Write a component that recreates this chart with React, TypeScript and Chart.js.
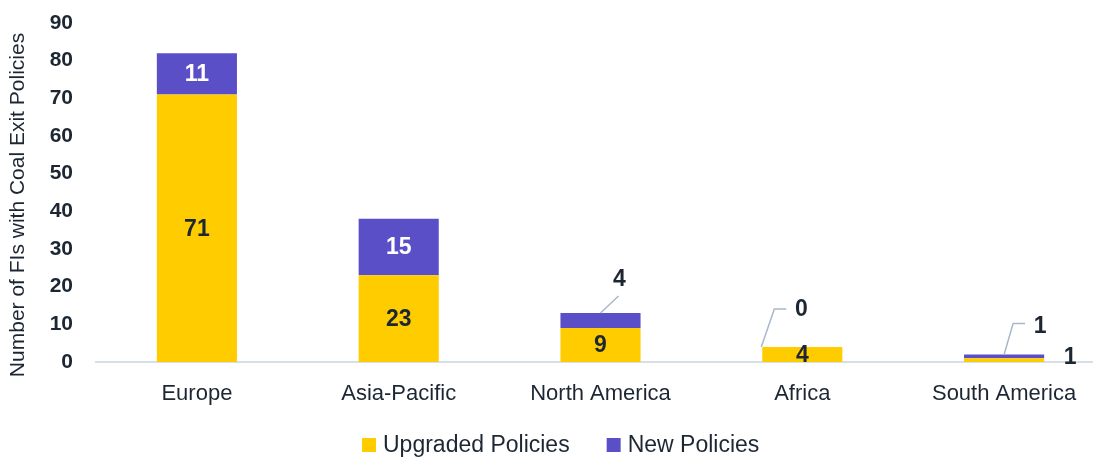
import React, { useEffect, useRef } from "react";
import { Chart, registerables } from "chart.js";

Chart.register(...registerables);

// ---- data ----
const categories = ["Europe", "Asia-Pacific", "North America", "Africa", "South America"];
const upgradedPolicies = [71, 23, 9, 4, 1];
const newPolicies = [11, 15, 4, 0, 1];
const seriesNames = ["Upgraded Policies", "New Policies"];
const yMin = 0;
const yMax = 90;
const yStep = 10;
const yTitle = "Number of FIs with Coal Exit Policies";

// ---- styles ----
const YELLOW = "#FFCC00";
const PURPLE = "#5B4FC7";
const DARK = "#1d2733";
const LEADER = "#a9b8c8";
const FONT = "'Liberation Sans', Arial, sans-serif";

type Pt = [number, number];
type Callout = { text: Pt; line: Pt[] }; // offsets relative to (bar x, bar top)
const callouts: Record<string, Callout> = {
  "1-2": { text: [19, -33], line: [[0, 0], [18, -17]] },
  "1-3": { text: [-1, -37], line: [[-41, 0], [-28, -38], [-16, -38]] },
  "1-4": { text: [36, -28], line: [[0, 0], [9, -31], [21, -31]] },
};
const sideLabels: Record<string, Pt> = {
  "0-4": [66, -2], // relative to (bar x, bar vertical middle)
};

const labelPlugin = {
  id: "barLabels",
  afterDatasetsDraw(chart: any) {
    const ctx = chart.ctx;
    ctx.save();
    ctx.font = `bold 23px ${FONT}`;
    ctx.textAlign = "center";
    ctx.textBaseline = "middle";
    chart.data.datasets.forEach((ds: any, di: number) => {
      const meta = chart.getDatasetMeta(di);
      meta.data.forEach((el: any, i: number) => {
        const v = ds.data[i];
        const key = `${di}-${i}`;
        const top = Math.min(el.y, el.base);
        const mid = (el.y + el.base) / 2;
        if (callouts[key]) {
          const c = callouts[key];
          ctx.strokeStyle = LEADER;
          ctx.lineWidth = 1.5;
          ctx.beginPath();
          c.line.forEach((p, k) => {
            if (k === 0) ctx.moveTo(el.x + p[0], top + p[1]);
            else ctx.lineTo(el.x + p[0], top + p[1]);
          });
          ctx.stroke();
          ctx.fillStyle = DARK;
          ctx.fillText(String(v), el.x + c.text[0], top + c.text[1]);
        } else if (sideLabels[key]) {
          const s = sideLabels[key];
          ctx.fillStyle = DARK;
          ctx.fillText(String(v), el.x + s[0], mid + s[1]);
        } else {
          ctx.fillStyle = di === 1 ? "#ffffff" : DARK;
          ctx.fillText(String(v), el.x, mid + 1);
        }
      });
    });
    ctx.restore();
  },
};

const extrasPlugin = {
  id: "extras",
  afterDraw(chart: any) {
    const ctx = chart.ctx;
    ctx.save();
    // y axis title
    ctx.translate(18, 205);
    ctx.rotate(-Math.PI / 2);
    ctx.font = `21px ${FONT}`;
    ctx.fillStyle = DARK;
    ctx.textAlign = "center";
    ctx.textBaseline = "middle";
    ctx.fillText(yTitle, 0, 0);
    ctx.restore();

    // legend
    ctx.save();
    ctx.font = `23px ${FONT}`;
    ctx.textBaseline = "middle";
    ctx.textAlign = "left";
    const box = 14;
    const gapText = 7;
    const gapItem = 37;
    const items = chart.data.datasets.map((d: any) => ({
      label: d.label,
      color: d.backgroundColor,
      w: ctx.measureText(d.label).width,
    }));
    let x = 362;
    const cy = 445;
    items.forEach((it: any) => {
      ctx.fillStyle = it.color;
      ctx.fillRect(x, cy - box / 2, box, box);
      x += box + gapText;
      ctx.fillStyle = DARK;
      ctx.fillText(it.label, x, cy + 1);
      x += it.w + gapItem;
    });
    ctx.restore();
  },
};

export default function App() {
  const ref = useRef<HTMLCanvasElement | null>(null);
  useEffect(() => {
    if (!ref.current) return;
    const chart = new Chart(ref.current, {
      type: "bar",
      data: {
        labels: categories,
        datasets: [
          {
            label: seriesNames[0],
            data: upgradedPolicies,
            backgroundColor: YELLOW,
            barPercentage: 0.397,
            categoryPercentage: 1,
          },
          {
            label: seriesNames[1],
            data: newPolicies,
            backgroundColor: PURPLE,
            barPercentage: 0.397,
            categoryPercentage: 1,
          },
        ],
      },
      options: {
        animation: false,
        responsive: false,
        devicePixelRatio: 1,
        layout: { padding: { top: 23, bottom: 51, left: 0, right: 0 } },
        plugins: { legend: { display: false }, tooltip: { enabled: false } },
        scales: {
          x: {
            stacked: true,
            grid: { display: false, drawTicks: false },
            border: { display: true, color: "#d6dfe7", width: 2 },
            ticks: {
              color: DARK,
              font: { family: FONT, size: 22 },
              padding: 19,
              maxRotation: 0,
              autoSkip: false,
            },
            afterFit(scale: any) {
              scale.height = 45;
            },
          },
          y: {
            stacked: true,
            min: yMin,
            max: yMax,
            grid: { display: false, drawTicks: false },
            border: { display: false },
            ticks: {
              stepSize: yStep,
              color: DARK,
              font: { family: FONT, size: 21, weight: "bold" },
              padding: 23,
            },
            afterFit(scale: any) {
              scale.width = 96;
              scale.paddingTop = 0;
              scale.paddingBottom = 0;
            },
          },
        },
      },
      plugins: [labelPlugin, extrasPlugin],
    });
    return () => chart.destroy();
  }, []);

  return (
    <div
      style={{
        position: "fixed",
        left: 0,
        top: 0,
        width: 1093,
        height: 458,
        overflow: "hidden",
        background: "#ffffff",
      }}
    >
      <canvas ref={ref} width={1105} height={458} style={{ width: 1105, height: 458, display: "block" }} />
    </div>
  );
}
